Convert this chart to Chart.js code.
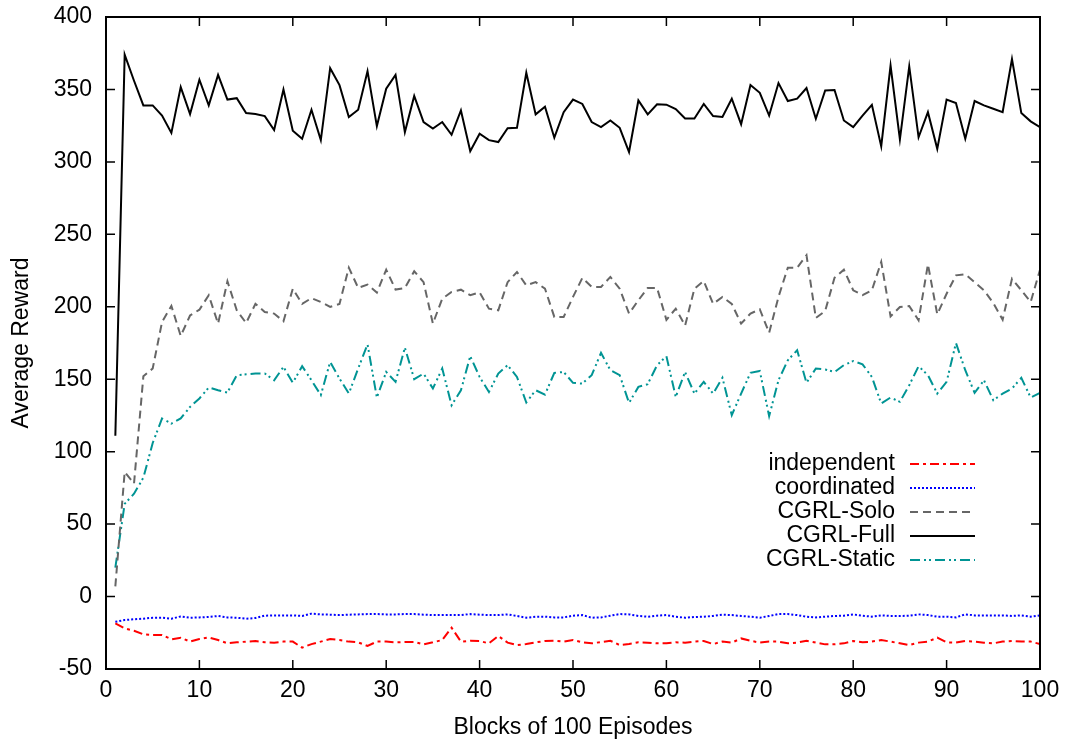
<!DOCTYPE html>
<html>
<head>
<meta charset="utf-8">
<script src="https://cdn.jsdelivr.net/npm/chart.js@4.4.1/dist/chart.umd.min.js"></script>
<style>
  html, body { margin: 0; padding: 0; background: #fff; }
  #wrap { width: 1070px; height: 746px; }
</style>
</head>
<body>
<div id="wrap"><canvas id="myChart" width="1070" height="746"></canvas></div>
<script>
// blocks of 100 episodes (x positions 1..100)
const blocks = Array.from({ length: 100 }, (_, i) => i + 1);

const independent = [
    -18.5, -21.9, -23.6, -26.1, -26.5, -26.5, -29.5, -28.4, -31.1, -29.3,
    -28.2, -30.0, -32.3, -31.6, -31.1, -30.7, -31.6, -31.8, -31.1, -31.1,
    -35.3, -32.8, -31.1, -29.3, -30.0, -31.1, -31.6, -34.1, -31.1, -31.1,
    -31.6, -31.4, -31.3, -33.0, -31.6, -30.0, -21.5, -31.1, -30.5, -30.7,
    -32.3, -27.2, -31.8, -33.5, -32.8, -31.6, -30.7, -30.5, -31.1, -30.0,
    -31.6, -32.3, -31.4, -30.5, -33.5, -32.8, -31.6, -31.8, -32.3, -32.3,
    -31.6, -31.8, -31.1, -30.7, -32.8, -31.1, -31.8, -28.9, -30.5, -31.8,
    -31.1, -31.1, -32.3, -31.8, -30.5, -31.8, -33.0, -33.0, -32.3, -30.7,
    -31.6, -31.1, -30.0, -31.1, -32.3, -33.5, -31.8, -31.1, -28.4, -31.6,
    -31.8, -30.7, -31.1, -31.8, -32.3, -31.1, -30.7, -31.1, -31.1, -32.8
];

const coordinated = [
    -17.4, -16.2, -15.7, -15.3, -14.6, -14.6, -15.3, -13.7, -14.6, -14.4,
    -14.1, -13.4, -14.4, -14.6, -15.3, -14.8, -13.2, -13.0, -13.0, -13.0,
    -13.4, -11.8, -12.3, -12.5, -12.8, -12.5, -12.3, -12.1, -12.1, -12.3,
    -12.3, -12.1, -12.1, -12.5, -12.8, -12.8, -12.8, -12.8, -12.1, -12.5,
    -12.8, -12.8, -12.3, -13.4, -14.6, -13.9, -13.9, -14.4, -14.4, -13.2,
    -12.8, -14.6, -14.4, -13.2, -12.1, -12.3, -13.4, -13.9, -13.2, -12.8,
    -13.9, -14.6, -14.1, -13.9, -13.4, -12.5, -12.8, -13.4, -13.9, -14.6,
    -13.4, -12.1, -12.1, -12.8, -13.9, -14.4, -13.9, -13.4, -13.2, -12.3,
    -13.2, -13.9, -13.0, -13.4, -13.4, -13.2, -12.3, -12.8, -13.9, -13.9,
    -14.4, -12.3, -13.0, -13.0, -13.0, -13.0, -13.4, -13.0, -13.9, -13.0
];

const cgrlSolo = [
    7, 86, 78, 152, 157.4, 189.5, 200.6, 179.9, 194, 198,
    208, 188.4, 217.6, 197.6, 188.8, 202, 196.4, 195.3, 190, 212.5,
    202, 206, 203.3, 199.9, 202, 227, 213, 215.3, 209.8, 225.6,
    211.9, 213, 224.5, 217, 188.4, 205.6, 210.2, 211.8, 208, 210,
    198.7, 197.6, 217, 224, 214.8, 217, 212.5, 193, 193, 206.8,
    219.9, 213.7, 213.7, 220.6, 212.5, 195.3, 204.5, 213, 213, 191,
    198.7, 187, 212.5, 217.8, 202, 206.8, 202, 188.4, 195.3, 198.3,
    182, 206.8, 227, 227, 235.5, 192.3, 197.1, 220, 225.6, 211.4,
    208, 211.4, 231, 193.4, 199.9, 200.5, 190.7, 229.3, 194.8, 209,
    221.7, 222.5, 217, 211.4, 202.6, 191, 219.4, 211.4, 203.3, 225.6
];

const cgrlFull = [
    111, 374, 356, 339, 339, 332, 320, 351.6, 333, 356.7,
    339, 360, 343, 344, 333.7, 333, 331.6, 322, 350, 321.5,
    316, 336, 315, 364.7, 353, 331, 336, 362.6, 324.7, 350.5,
    360, 320.6, 345.5, 327.5, 323, 327.5, 318.7, 335.5, 307.4, 319.4,
    315, 313.7, 323.3, 323.5, 361.5, 332.8, 338, 316.7, 334.3, 343,
    340, 327.5, 324, 328.6, 323.5, 306.8, 342.4, 332.8, 339.7, 339.5,
    336.4, 330, 330, 340, 331.6, 331, 343.6, 326, 353, 347.7,
    332, 354.4, 342, 343.6, 351, 329.8, 349.3, 349.6, 328.6, 324,
    332, 339.4, 310.7, 366.5, 315.5, 365.9, 317, 334.3, 309, 343,
    340.6, 316, 342, 339, 336.7, 334.3, 371, 333.7, 328, 324
];

const cgrlStatic = [
    20, 64, 71, 82, 106, 122.9, 119.4, 122.9, 130.9, 136.7,
    144.3, 142.4, 140.8, 152.8, 153.4, 154, 154, 149.3, 158.5, 147.5,
    159, 149.3, 139, 162, 150.5, 140.1, 157.4, 174.1, 137.4, 155,
    148.2, 171.8, 150, 153.9, 143.6, 157.4, 132, 142.4, 165.9, 151.6,
    141.2, 153.9, 159.7, 151.6, 133.9, 142.4, 139.4, 154.4, 155, 147.5,
    147, 152.8, 168.2, 156.2, 152.8, 133.7, 144.7, 146.6, 159.7, 165.9,
    137.8, 155, 140.1, 148.2, 140.1, 151, 125.2, 140.1, 154.4, 155.7,
    124.5, 149.3, 163.1, 170, 147.5, 157.4, 156.7, 155, 159.7, 162.6,
    160.3, 151.6, 133.2, 137.4, 134.4, 145.9, 159, 152.8, 140.1, 148.2,
    175, 156.2, 140.6, 149.3, 135.5, 140.1, 143.6, 150.9, 137.4, 140.6
];

const FONT = 'Liberation Sans, Arial, Helvetica, sans-serif';
const FSIZE = 23;

function pts(values) {
    return values.map((v, i) => ({ x: blocks[i], y: v }));
}

function series(label, values, color, dash) {
    return {
        label: label,
        data: pts(values),
        borderColor: color,
        backgroundColor: color,
        borderWidth: 2,
        borderDash: dash,
        pointRadius: 0,
        tension: 0,
        fill: false
    };
}

// gnuplot style frame with inward ticks on all four sides
const frame = {
    id: 'frame',
    afterDatasetsDraw(chart) {
        const { ctx, chartArea: a, scales } = chart;
        const tl = 9;
        ctx.save();
        ctx.strokeStyle = '#000';
        ctx.lineWidth = 1.5;
        ctx.setLineDash([]);
        ctx.beginPath();
        scales.y.ticks.forEach(t => {
            const y = scales.y.getPixelForValue(t.value);
            ctx.moveTo(a.left, y); ctx.lineTo(a.left + tl, y);
            ctx.moveTo(a.right, y); ctx.lineTo(a.right - tl, y);
        });
        scales.x.ticks.forEach(t => {
            const x = scales.x.getPixelForValue(t.value);
            ctx.moveTo(x, a.bottom); ctx.lineTo(x, a.bottom - tl);
            ctx.moveTo(x, a.top); ctx.lineTo(x, a.top + tl);
        });
        ctx.stroke();
        ctx.lineWidth = 2;
        ctx.strokeRect(a.left, a.top, a.right - a.left, a.bottom - a.top);
        ctx.restore();
    }
};

// legend inside the plot: right aligned text, sample line on the right
const keyBox = {
    id: 'keyBox',
    afterDraw(chart) {
        const { ctx } = chart;
        const textRight = 895, lineL = 910, lineR = 975, top = 464, step = 24;
        ctx.save();
        ctx.font = FSIZE + 'px ' + FONT;
        ctx.textAlign = 'right';
        ctx.textBaseline = 'middle';
        chart.data.datasets.forEach((ds, i) => {
            const y = top + i * step;
            ctx.fillStyle = '#000';
            ctx.fillText(ds.label, textRight, y);
            ctx.strokeStyle = ds.borderColor;
            ctx.lineWidth = ds.borderWidth;
            ctx.setLineDash(ds.borderDash || []);
            ctx.beginPath();
            ctx.moveTo(lineL, y);
            ctx.lineTo(lineR, y);
            ctx.stroke();
        });
        ctx.restore();
    }
};

const data = {
    datasets: [
        series('independent', independent, '#ff0000', [9, 4, 3, 4]),
        series('coordinated', coordinated, '#0000ff', [2, 2]),
        series('CGRL-Solo', cgrlSolo, '#666666', [8, 5]),
        series('CGRL-Full', cgrlFull, '#000000', []),
        series('CGRL-Static', cgrlStatic, '#009494', [10, 4, 2, 3, 2, 4])
    ]
};

const config = {
    type: 'line',
    data: data,
    plugins: [frame, keyBox],
    options: {
        responsive: false,
        animation: false,
        layout: { padding: { top: 17, right: 30, left: 0, bottom: 0 } },
        plugins: {
            legend: { display: false },
            tooltip: { enabled: false }
        },
        scales: {
            x: {
                type: 'linear',
                min: 0,
                max: 100,
                ticks: {
                    stepSize: 10,
                    color: '#000',
                    font: { family: FONT, size: FSIZE },
                    padding: 8,
                    maxRotation: 0
                },
                grid: { display: false, drawTicks: false },
                border: { display: false },
                title: {
                    display: true,
                    text: 'Blocks of 100 Episodes',
                    color: '#000',
                    font: { family: FONT, size: FSIZE },
                    padding: { top: 0, bottom: 5 }
                },
                afterFit(scale) {
                    scale.height = 77;
                    scale.paddingLeft = 0;
                    scale.paddingRight = 0;
                }
            },
            y: {
                min: -50,
                max: 400,
                ticks: {
                    stepSize: 50,
                    color: '#000',
                    font: { family: FONT, size: FSIZE },
                    padding: 14
                },
                grid: { display: false, drawTicks: false },
                border: { display: false },
                title: {
                    display: true,
                    text: 'Average Reward',
                    color: '#000',
                    font: { family: FONT, size: FSIZE },
                    padding: { top: 8, bottom: 0 }
                },
                afterFit(scale) {
                    scale.width = 106;
                    scale.paddingTop = 0;
                    scale.paddingBottom = 0;
                }
            }
        }
    }
};

const myChart = new Chart(
    document.getElementById('myChart'),
    config
);
</script>
</body>
</html>
